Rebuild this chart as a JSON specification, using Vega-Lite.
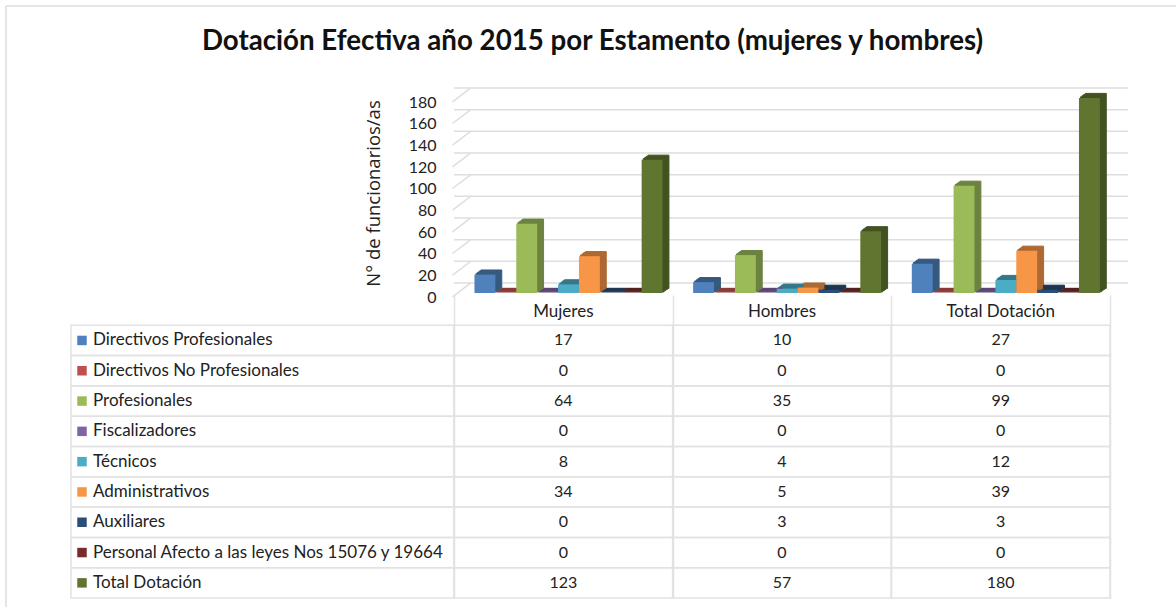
{
"$schema":"https://vega.github.io/schema/vega-lite/v6.json",
"padding":{"left":5,"top":5,"right":0,"bottom":0},
"background":"white",
"config":{"view":{"stroke":null},"font":"Lato","axis":{"labelFont":"Lato","titleFont":"Lato","labelOverlap":false}},
"datasets":{
"valores":[
{"estamento":"Directivos Profesionales","grupo":"Mujeres","valor":17},{"estamento":"Directivos Profesionales","grupo":"Hombres","valor":10},{"estamento":"Directivos Profesionales","grupo":"Total Dotación","valor":27},
{"estamento":"Directivos No Profesionales","grupo":"Mujeres","valor":0},{"estamento":"Directivos No Profesionales","grupo":"Hombres","valor":0},{"estamento":"Directivos No Profesionales","grupo":"Total Dotación","valor":0},
{"estamento":"Profesionales","grupo":"Mujeres","valor":64},{"estamento":"Profesionales","grupo":"Hombres","valor":35},{"estamento":"Profesionales","grupo":"Total Dotación","valor":99},
{"estamento":"Fiscalizadores","grupo":"Mujeres","valor":0},{"estamento":"Fiscalizadores","grupo":"Hombres","valor":0},{"estamento":"Fiscalizadores","grupo":"Total Dotación","valor":0},
{"estamento":"Técnicos","grupo":"Mujeres","valor":8},{"estamento":"Técnicos","grupo":"Hombres","valor":4},{"estamento":"Técnicos","grupo":"Total Dotación","valor":12},
{"estamento":"Administrativos","grupo":"Mujeres","valor":34},{"estamento":"Administrativos","grupo":"Hombres","valor":5},{"estamento":"Administrativos","grupo":"Total Dotación","valor":39},
{"estamento":"Auxiliares","grupo":"Mujeres","valor":0},{"estamento":"Auxiliares","grupo":"Hombres","valor":3},{"estamento":"Auxiliares","grupo":"Total Dotación","valor":3},
{"estamento":"Personal Afecto a las leyes Nos 15076 y 19664","grupo":"Mujeres","valor":0},{"estamento":"Personal Afecto a las leyes Nos 15076 y 19664","grupo":"Hombres","valor":0},{"estamento":"Personal Afecto a las leyes Nos 15076 y 19664","grupo":"Total Dotación","valor":0},
{"estamento":"Total Dotación","grupo":"Mujeres","valor":123},{"estamento":"Total Dotación","grupo":"Hombres","valor":57},{"estamento":"Total Dotación","grupo":"Total Dotación","valor":180}
],
"estamentos":[{"estamento":"Directivos Profesionales"},{"estamento":"Directivos No Profesionales"},{"estamento":"Profesionales"},{"estamento":"Fiscalizadores"},{"estamento":"Técnicos"},{"estamento":"Administrativos"},{"estamento":"Auxiliares"},{"estamento":"Personal Afecto a las leyes Nos 15076 y 19664"},{"estamento":"Total Dotación"}],
"grupos":[{"grupo":"Mujeres"},{"grupo":"Hombres"},{"grupo":"Total Dotación"}],
"marcas":[{"marca":0},{"marca":20},{"marca":40},{"marca":60},{"marca":80},{"marca":100},{"marca":120},{"marca":140},{"marca":160},{"marca":180}],
"titulo":[{"titulo":"Dotación Efectiva año 2015 por Estamento (mujeres y hombres)"}]
},
"bounds":"flush",
"spacing":0,
"vconcat":[
{"width":1171,"height":92,"data":{"name":"titulo"},
 "layer":[
  {"mark":{"type":"rule","color":"#DDDDDD","strokeWidth":1.5},"encoding":{"y":{"datum":1,"type":"quantitative","scale":{"domain":[0,1]},"axis":null}}},
  {"mark":{"type":"rule","color":"#DDDDDD","strokeWidth":1.5},"encoding":{"x":{"datum":0,"type":"quantitative","scale":{"domain":[0,1]},"axis":null}}},
  {"mark":{"type":"text","fontSize":27.7,"fontWeight":"bold","font":"Lato","color":"#111111","dx":1,"dy":36,"baseline":"middle","align":"center"},
   "encoding":{"text":{"field":"titulo"},
    "x":{"datum":0.5,"type":"quantitative"},
    "y":{"datum":1,"type":"quantitative"}}}
 ]},
{"bounds":"flush","spacing":0,"hconcat":[
 {"width":65,"height":510,"data":{"name":"titulo"},"mark":{"type":"rule","color":"#DDDDDD","strokeWidth":1.5},"encoding":{"x":{"datum":0,"type":"quantitative","scale":{"domain":[0,1]},"axis":null}}},
 {"bounds":"flush","spacing":197,"vconcat":[
  {"bounds":"flush","spacing":0,"hconcat":[
   {"width":383,"height":195,"data":{"values":[]},"mark":"point"},
   {"width":656,"height":195,
    "resolve":{"scale":{"xOffset":"independent"}},
    "layer":[
     {"data":{"name":"marcas"},"mark":{"type":"rule","color":"#DEDEDE","strokeWidth":1.5,"xOffset":18,"yOffset":-10},
      "encoding":{"y":{"field":"marca","type":"quantitative","scale":{"domain":[0,180],"nice":false},
       "axis":{"values":[0,20,40,60,80,100,120,140,160,180],"labelOverlap":false,"grid":false,"domain":false,"ticks":false,"labelFontSize":16,"labelColor":"#222222","labelPadding":18,"labelOffset":4,"labelFont":"Lato","title":"N° de funcionarios/as","titleFont":"Open Sans","titleFontWeight":"normal","titleFontSize":18.5,"titleColor":"#222222","titleX":-71,"titleY":95}}}},
     {"data":{"name":"marcas"},"mark":{"type":"point","filled":false,"shape":"M-9,6.85L9,-6.85","size":4,"color":"#DEDEDE","strokeWidth":1.5,"opacity":1,"xOffset":7.5,"yOffset":-3},
      "encoding":{"y":{"field":"marca","type":"quantitative","axis":{"values":[0,20,40,60,80,100,120,140,160,180]}},
       "x":{"datum":"Mujeres","bandPosition":0,"type":"nominal","scale":{"type":"band","domain":["Mujeres","Hombres","Total Dotación"],"paddingInner":0,"paddingOuter":0},"axis":null}}},
     {"data":{"name":"valores"},
      "resolve":{"scale":{"xOffset":"independent"}},
      "encoding":{
       "x":{"field":"grupo","type":"nominal","scale":{"type":"band","domain":["Mujeres","Hombres","Total Dotación"],"paddingInner":0,"paddingOuter":0},"axis":null},
       "y":{"field":"valor","type":"quantitative","axis":{"values":[0,20,40,60,80,100,120,140,160,180]}},
       "fill":{"field":"estamento","type":"nominal","legend":null,"scale":{"domain":["Directivos Profesionales","Directivos No Profesionales","Profesionales","Fiscalizadores","Técnicos","Administrativos","Auxiliares","Personal Afecto a las leyes Nos 15076 y 19664","Total Dotación"],"range":["#36597F","#8A3836","#6C833F","#5A4672","#34788A","#AD6931","#1F3652","#531F1D","#425221"]}},
       "stroke":{"field":"estamento","type":"nominal","legend":null,"scale":{"domain":["Directivos Profesionales","Directivos No Profesionales","Profesionales","Fiscalizadores","Técnicos","Administrativos","Auxiliares","Personal Afecto a las leyes Nos 15076 y 19664","Total Dotación"],"range":["#36597F","#8A3836","#6C833F","#5A4672","#34788A","#AD6931","#1F3652","#531F1D","#425221"]}}
      },
      "layer":[
       {"mark":{"type":"bar","strokeWidth":1,"yOffset":-1.2},"encoding":{"xOffset":{"field":"estamento","type":"nominal","scale":{"type":"band","domain":["Directivos Profesionales","Directivos No Profesionales","Profesionales","Fiscalizadores","Técnicos","Administrativos","Auxiliares","Personal Afecto a las leyes Nos 15076 y 19664","Total Dotación"],"paddingInner":0,"paddingOuter":0.74,"range":[6.6,225.6]}}}},
       {"mark":{"type":"bar","strokeWidth":1,"yOffset":-2.4},"encoding":{"xOffset":{"field":"estamento","type":"nominal","scale":{"type":"band","domain":["Directivos Profesionales","Directivos No Profesionales","Profesionales","Fiscalizadores","Técnicos","Administrativos","Auxiliares","Personal Afecto a las leyes Nos 15076 y 19664","Total Dotación"],"paddingInner":0,"paddingOuter":0.74,"range":[8.2,227.2]}}}},
       {"mark":{"type":"bar","strokeWidth":1,"yOffset":-3.6},"encoding":{"xOffset":{"field":"estamento","type":"nominal","scale":{"type":"band","domain":["Directivos Profesionales","Directivos No Profesionales","Profesionales","Fiscalizadores","Técnicos","Administrativos","Auxiliares","Personal Afecto a las leyes Nos 15076 y 19664","Total Dotación"],"paddingInner":0,"paddingOuter":0.74,"range":[9.8,228.8]}}}},
       {"mark":{"type":"bar","strokeWidth":1,"yOffset":-4.6},"encoding":{"xOffset":{"field":"estamento","type":"nominal","scale":{"type":"band","domain":["Directivos Profesionales","Directivos No Profesionales","Profesionales","Fiscalizadores","Técnicos","Administrativos","Auxiliares","Personal Afecto a las leyes Nos 15076 y 19664","Total Dotación"],"paddingInner":0,"paddingOuter":0.74,"range":[11.4,230.4]}}}}
      ]},
     {"data":{"name":"valores"},"mark":{"type":"bar"},
      "encoding":{
       "x":{"field":"grupo","type":"nominal"},
       "xOffset":{"field":"estamento","type":"nominal","scale":{"type":"band","domain":["Directivos Profesionales","Directivos No Profesionales","Profesionales","Fiscalizadores","Técnicos","Administrativos","Auxiliares","Personal Afecto a las leyes Nos 15076 y 19664","Total Dotación"],"paddingInner":0,"paddingOuter":0.74,"range":[5,224]}},
       "y":{"field":"valor","type":"quantitative","axis":{"values":[0,20,40,60,80,100,120,140,160,180]}},
       "color":{"field":"estamento","type":"nominal","legend":null,"scale":{"domain":["Directivos Profesionales","Directivos No Profesionales","Profesionales","Fiscalizadores","Técnicos","Administrativos","Auxiliares","Personal Afecto a las leyes Nos 15076 y 19664","Total Dotación"],"range":["#4F81BD","#C0504D","#9BBB59","#8064A2","#4BACC6","#F79646","#2C4D75","#772C2A","#5F7530"]}}}}
    ]}
  ]},
  {"bounds":"flush","spacing":0,"hconcat":[
   {"width":383,"height":303,"data":{"name":"estamentos"},
    "encoding":{"y":{"field":"estamento","type":"nominal","axis":null,"scale":{"type":"band","domain":[" ","Directivos Profesionales","Directivos No Profesionales","Profesionales","Fiscalizadores","Técnicos","Administrativos","Auxiliares","Personal Afecto a las leyes Nos 15076 y 19664","Total Dotación"],"paddingInner":0,"paddingOuter":0}}},
    "layer":[
     {"mark":{"type":"rect","fill":"transparent","stroke":"#E2E2E2","strokeWidth":1.5}},
     {"mark":{"type":"point","shape":"square","filled":true,"size":90,"opacity":1,"xOffset":11},
      "encoding":{"x":{"datum":0,"type":"quantitative","scale":{"domain":[0,1]},"axis":null},
       "color":{"field":"estamento","type":"nominal","legend":null,"scale":{"domain":["Directivos Profesionales","Directivos No Profesionales","Profesionales","Fiscalizadores","Técnicos","Administrativos","Auxiliares","Personal Afecto a las leyes Nos 15076 y 19664","Total Dotación"],"range":["#4F81BD","#C0504D","#9BBB59","#8064A2","#4BACC6","#F79646","#2C4D75","#772C2A","#5F7530"]}}}},
     {"mark":{"type":"text","align":"left","baseline":"middle","dx":22,"fontSize":17,"font":"Lato","color":"#222222"},
      "encoding":{"x":{"datum":0,"type":"quantitative"},"text":{"field":"estamento"}}}
    ]},
   {"width":656,"height":303,
    "layer":[
     {"data":{"name":"valores"},"mark":{"type":"rect","fill":"transparent","stroke":"#E2E2E2","strokeWidth":1.5},
      "encoding":{
       "x":{"field":"grupo","type":"nominal","scale":{"type":"band","domain":["Mujeres","Hombres","Total Dotación"],"paddingInner":0,"paddingOuter":0},
        "axis":{"grid":true,"tickBand":"extent","gridColor":"#E2E2E2","gridWidth":1.5,"labels":false,"ticks":false,"domain":false,"title":null}},
       "y":{"field":"estamento","type":"nominal","axis":null,"scale":{"type":"band","domain":[" ","Directivos Profesionales","Directivos No Profesionales","Profesionales","Fiscalizadores","Técnicos","Administrativos","Auxiliares","Personal Afecto a las leyes Nos 15076 y 19664","Total Dotación"],"paddingInner":0,"paddingOuter":0}}}},
     {"data":{"name":"valores"},"mark":{"type":"text","baseline":"middle","fontSize":16,"font":"Lato","color":"#222222"},
      "encoding":{"x":{"field":"grupo","type":"nominal"},"y":{"field":"estamento","type":"nominal"},"text":{"field":"valor","type":"quantitative"}}},
     {"data":{"name":"grupos"},"mark":{"type":"text","baseline":"middle","fontSize":17,"font":"Lato","color":"#222222","dy":2},
      "encoding":{"x":{"field":"grupo","type":"nominal"},"y":{"datum":" ","type":"nominal"},"text":{"field":"grupo"}}}
    ]}
  ]}
 ]}
]}
]
}
